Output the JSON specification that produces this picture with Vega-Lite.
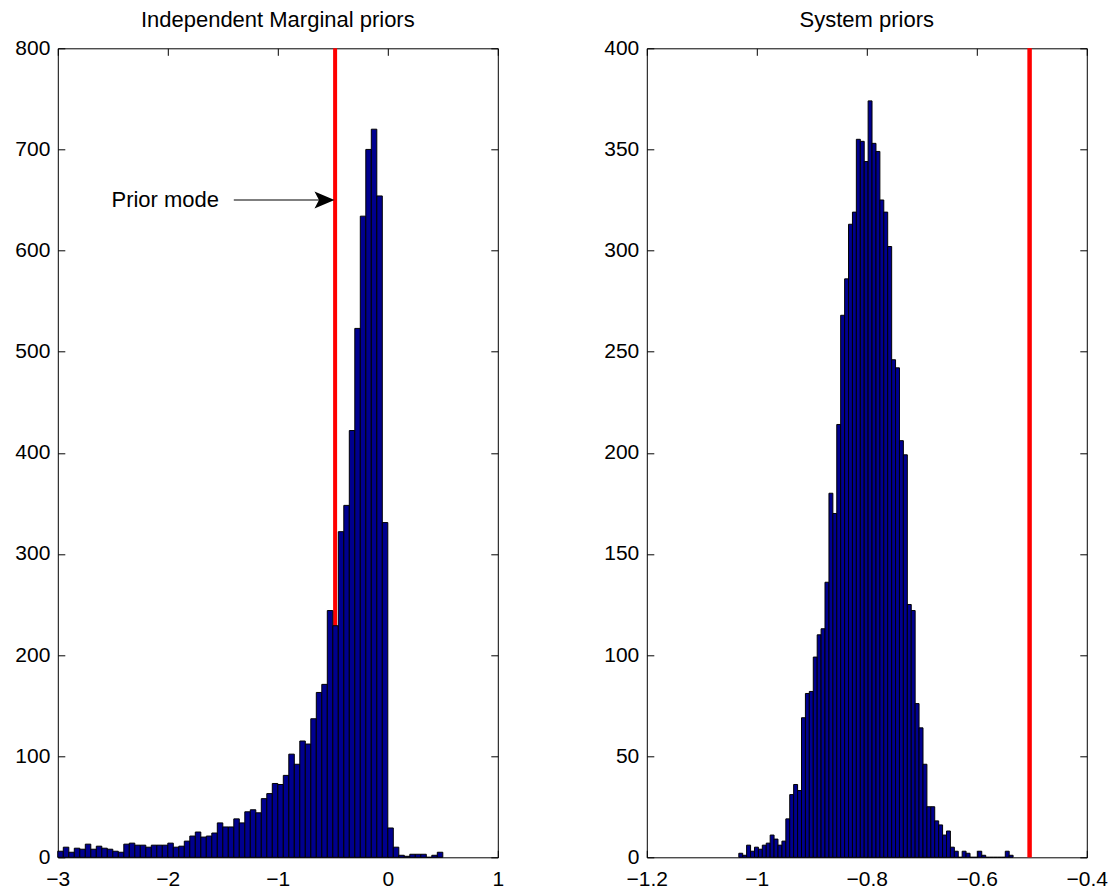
{
  "$schema": "https://vega.github.io/schema/vega-lite/v6.json",
  "padding": {"left": 13.8, "top": 8.3, "right": 0, "bottom": 0},
  "spacing": 98,
  "datasets": {
    "left": [
      {"lo": -3, "hi": -2.95, "n": 6}, {"lo": -2.95, "hi": -2.9, "n": 10}, {"lo": -2.9, "hi": -2.85, "n": 5}, {"lo": -2.85, "hi": -2.8, "n": 9},
      {"lo": -2.8, "hi": -2.75, "n": 8}, {"lo": -2.75, "hi": -2.7, "n": 13}, {"lo": -2.7, "hi": -2.65, "n": 8}, {"lo": -2.65, "hi": -2.6, "n": 11},
      {"lo": -2.6, "hi": -2.55, "n": 9}, {"lo": -2.55, "hi": -2.5, "n": 8}, {"lo": -2.5, "hi": -2.45, "n": 6}, {"lo": -2.45, "hi": -2.4, "n": 5},
      {"lo": -2.4, "hi": -2.35, "n": 13}, {"lo": -2.35, "hi": -2.3, "n": 14}, {"lo": -2.3, "hi": -2.25, "n": 12}, {"lo": -2.25, "hi": -2.2, "n": 12},
      {"lo": -2.2, "hi": -2.15, "n": 10}, {"lo": -2.15, "hi": -2.1, "n": 12}, {"lo": -2.1, "hi": -2.05, "n": 12}, {"lo": -2.05, "hi": -2, "n": 12},
      {"lo": -2, "hi": -1.95, "n": 14}, {"lo": -1.95, "hi": -1.9, "n": 10}, {"lo": -1.9, "hi": -1.85, "n": 11}, {"lo": -1.85, "hi": -1.8, "n": 16},
      {"lo": -1.8, "hi": -1.75, "n": 21}, {"lo": -1.75, "hi": -1.7, "n": 25}, {"lo": -1.7, "hi": -1.65, "n": 20}, {"lo": -1.65, "hi": -1.6, "n": 21},
      {"lo": -1.6, "hi": -1.55, "n": 24}, {"lo": -1.55, "hi": -1.5, "n": 34}, {"lo": -1.5, "hi": -1.45, "n": 30}, {"lo": -1.45, "hi": -1.4, "n": 30},
      {"lo": -1.4, "hi": -1.35, "n": 38}, {"lo": -1.35, "hi": -1.3, "n": 34}, {"lo": -1.3, "hi": -1.25, "n": 45}, {"lo": -1.25, "hi": -1.2, "n": 47},
      {"lo": -1.2, "hi": -1.15, "n": 44}, {"lo": -1.15, "hi": -1.1, "n": 58}, {"lo": -1.1, "hi": -1.05, "n": 63}, {"lo": -1.05, "hi": -1, "n": 73},
      {"lo": -1, "hi": -0.95, "n": 72}, {"lo": -0.95, "hi": -0.9, "n": 81}, {"lo": -0.9, "hi": -0.85, "n": 102}, {"lo": -0.85, "hi": -0.8, "n": 92},
      {"lo": -0.8, "hi": -0.75, "n": 115}, {"lo": -0.75, "hi": -0.7, "n": 112}, {"lo": -0.7, "hi": -0.65, "n": 137}, {"lo": -0.65, "hi": -0.6, "n": 163},
      {"lo": -0.6, "hi": -0.55, "n": 171}, {"lo": -0.55, "hi": -0.5, "n": 244}, {"lo": -0.5, "hi": -0.45, "n": 229}, {"lo": -0.45, "hi": -0.4, "n": 322},
      {"lo": -0.4, "hi": -0.35, "n": 348}, {"lo": -0.35, "hi": -0.3, "n": 422}, {"lo": -0.3, "hi": -0.25, "n": 523}, {"lo": -0.25, "hi": -0.2, "n": 634},
      {"lo": -0.2, "hi": -0.15, "n": 700}, {"lo": -0.15, "hi": -0.1, "n": 720}, {"lo": -0.1, "hi": -0.05, "n": 654}, {"lo": -0.05, "hi": 0, "n": 331},
      {"lo": 0, "hi": 0.05, "n": 29}, {"lo": 0.05, "hi": 0.1, "n": 10}, {"lo": 0.1, "hi": 0.15, "n": 2}, {"lo": 0.15, "hi": 0.2, "n": 1},
      {"lo": 0.2, "hi": 0.25, "n": 3}, {"lo": 0.25, "hi": 0.3, "n": 3}, {"lo": 0.3, "hi": 0.35, "n": 3}, {"lo": 0.35, "hi": 0.4, "n": 0},
      {"lo": 0.4, "hi": 0.45, "n": 2}, {"lo": 0.45, "hi": 0.5, "n": 5}
    ],
    "right": [
      {"lo": -1.0327, "hi": -1.0256, "n": 2}, {"lo": -1.0256, "hi": -1.0185, "n": 1}, {"lo": -1.0185, "hi": -1.0113, "n": 6}, {"lo": -1.0113, "hi": -1.0042, "n": 3},
      {"lo": -1.0042, "hi": -0.9971, "n": 5}, {"lo": -0.9971, "hi": -0.99, "n": 4}, {"lo": -0.99, "hi": -0.9828, "n": 6}, {"lo": -0.9828, "hi": -0.9757, "n": 7},
      {"lo": -0.9757, "hi": -0.9686, "n": 11}, {"lo": -0.9686, "hi": -0.9615, "n": 9}, {"lo": -0.9615, "hi": -0.9543, "n": 6}, {"lo": -0.9543, "hi": -0.9472, "n": 8},
      {"lo": -0.9472, "hi": -0.9401, "n": 19}, {"lo": -0.9401, "hi": -0.933, "n": 31}, {"lo": -0.933, "hi": -0.9258, "n": 36}, {"lo": -0.9258, "hi": -0.9187, "n": 33},
      {"lo": -0.9187, "hi": -0.9116, "n": 69}, {"lo": -0.9116, "hi": -0.9045, "n": 81}, {"lo": -0.9045, "hi": -0.8973, "n": 82}, {"lo": -0.8973, "hi": -0.8902, "n": 99},
      {"lo": -0.8902, "hi": -0.8831, "n": 110}, {"lo": -0.8831, "hi": -0.876, "n": 113}, {"lo": -0.876, "hi": -0.8688, "n": 136}, {"lo": -0.8688, "hi": -0.8617, "n": 180},
      {"lo": -0.8617, "hi": -0.8546, "n": 170}, {"lo": -0.8546, "hi": -0.8475, "n": 214}, {"lo": -0.8475, "hi": -0.8403, "n": 268}, {"lo": -0.8403, "hi": -0.8332, "n": 286},
      {"lo": -0.8332, "hi": -0.8261, "n": 313}, {"lo": -0.8261, "hi": -0.819, "n": 319}, {"lo": -0.819, "hi": -0.8118, "n": 355}, {"lo": -0.8118, "hi": -0.8047, "n": 354},
      {"lo": -0.8047, "hi": -0.7976, "n": 344}, {"lo": -0.7976, "hi": -0.7905, "n": 374}, {"lo": -0.7905, "hi": -0.7833, "n": 353}, {"lo": -0.7833, "hi": -0.7762, "n": 349},
      {"lo": -0.7762, "hi": -0.7691, "n": 325}, {"lo": -0.7691, "hi": -0.762, "n": 319}, {"lo": -0.762, "hi": -0.7548, "n": 302}, {"lo": -0.7548, "hi": -0.7477, "n": 246},
      {"lo": -0.7477, "hi": -0.7406, "n": 242}, {"lo": -0.7406, "hi": -0.7335, "n": 206}, {"lo": -0.7335, "hi": -0.7263, "n": 199}, {"lo": -0.7263, "hi": -0.7192, "n": 125},
      {"lo": -0.7192, "hi": -0.7121, "n": 122}, {"lo": -0.7121, "hi": -0.705, "n": 76}, {"lo": -0.705, "hi": -0.6978, "n": 64}, {"lo": -0.6978, "hi": -0.6907, "n": 46},
      {"lo": -0.6907, "hi": -0.6836, "n": 25}, {"lo": -0.6836, "hi": -0.6765, "n": 25}, {"lo": -0.6765, "hi": -0.6693, "n": 18}, {"lo": -0.6693, "hi": -0.6622, "n": 16},
      {"lo": -0.6622, "hi": -0.6551, "n": 11}, {"lo": -0.6551, "hi": -0.648, "n": 13}, {"lo": -0.648, "hi": -0.6408, "n": 5}, {"lo": -0.6408, "hi": -0.6337, "n": 3},
      {"lo": -0.6337, "hi": -0.6266, "n": 0}, {"lo": -0.6266, "hi": -0.6195, "n": 3}, {"lo": -0.6195, "hi": -0.6123, "n": 2}, {"lo": -0.6123, "hi": -0.6052, "n": 0},
      {"lo": -0.6052, "hi": -0.5981, "n": 0}, {"lo": -0.5981, "hi": -0.591, "n": 3}, {"lo": -0.591, "hi": -0.5838, "n": 1}, {"lo": -0.5838, "hi": -0.5767, "n": 0},
      {"lo": -0.5767, "hi": -0.5696, "n": 0}, {"lo": -0.5696, "hi": -0.5625, "n": 0}, {"lo": -0.5625, "hi": -0.5553, "n": 0}, {"lo": -0.5553, "hi": -0.5482, "n": 0},
      {"lo": -0.5482, "hi": -0.5411, "n": 3}, {"lo": -0.5411, "hi": -0.534, "n": 1}
    ]
  },
  "hconcat": [
    {
      "width": 440,
      "height": 809,
      "title": "Independent Marginal priors",
      "layer": [
        {
          "data": {"values": [{}]},
          "mark": {"type": "rule", "color": "#ff0000", "strokeWidth": 4},
          "encoding": {
            "x": {"datum": -0.479, "type": "quantitative", "scale": {"domain": [-3, 1], "nice": false, "zero": false},
                  "axis": {"orient": "top", "labels": false, "domain": false, "offset": -7, "values": [-3, -2, -1, 0, 1], "title": null}},
            "y": {"datum": 0, "type": "quantitative", "scale": {"domain": [0, 800], "nice": false},
                  "axis": {"orient": "right", "labels": false, "domain": false, "offset": -7, "values": [0, 100, 200, 300, 400, 500, 600, 700, 800], "title": null}},
            "y2": {"datum": 800}
          }
        },
        {
          "data": {"name": "left"},
          "mark": {"type": "rect", "color": "#00008f", "stroke": "#000000", "strokeWidth": 1},
          "encoding": {
            "x": {"field": "lo", "type": "quantitative", "scale": {"domain": [-3, 1], "nice": false, "zero": false},
                  "axis": {"orient": "bottom", "ticks": false, "domain": false, "labelPadding": 11, "values": [-3, -2, -1, 0, 1], "format": "~g", "title": null}},
            "x2": {"field": "hi"},
            "y": {"field": "n", "type": "quantitative", "scale": {"domain": [0, 800], "nice": false},
                  "axis": {"orient": "left", "ticks": false, "domain": false, "labelPadding": 8, "values": [0, 100, 200, 300, 400, 500, 600, 700, 800], "title": null}},
            "y2": {"datum": 0}
          }
        },
        {
          "data": {"values": [{}]},
          "mark": {"type": "text", "text": "Prior mode", "align": "left", "baseline": "middle", "font": "Liberation Sans", "fontSize": 22, "color": "#000000"},
          "encoding": {
            "x": {"datum": -2.512, "type": "quantitative", "scale": {"domain": [-3, 1], "nice": false, "zero": false},
                  "axis": {"orient": "bottom", "labels": false, "domain": false, "offset": -7, "values": [-3, -2, -1, 0, 1], "title": null}},
            "y": {"datum": 650, "type": "quantitative", "scale": {"domain": [0, 800], "nice": false},
                  "axis": {"orient": "left", "labels": false, "domain": false, "offset": -7, "values": [0, 100, 200, 300, 400, 500, 600, 700, 800], "title": null}}
          }
        },
        {
          "data": {"values": [{}]},
          "mark": {"type": "rule", "color": "#000000", "strokeWidth": 1.2},
          "encoding": {
            "x": {"datum": -1.4, "type": "quantitative", "scale": {"domain": [-3, 1], "nice": false, "zero": false}, "axis": null},
            "x2": {"datum": -0.58},
            "y": {"datum": 650, "type": "quantitative", "scale": {"domain": [0, 800], "nice": false}, "axis": null}
          }
        },
        {
          "data": {"values": [{}]},
          "mark": {"type": "point", "shape": "M1,0L-1,-0.85L-0.55,0L-1,0.85Z", "filled": true, "size": 400, "color": "#000000", "opacity": 1, "strokeWidth": 0},
          "encoding": {
            "x": {"datum": -0.5755, "type": "quantitative", "scale": {"domain": [-3, 1], "nice": false, "zero": false}, "axis": null},
            "y": {"datum": 650, "type": "quantitative", "scale": {"domain": [0, 800], "nice": false}, "axis": null}
          }
        }
      ],
      "resolve": {"axis": {"x": "independent", "y": "independent"}}
    },
    {
      "width": 440,
      "height": 809,
      "title": "System priors",
      "layer": [
        {
          "data": {"values": [{}]},
          "mark": {"type": "rule", "color": "#ff0000", "strokeWidth": 4},
          "encoding": {
            "x": {"datum": -0.504, "type": "quantitative", "scale": {"domain": [-1.2, -0.4], "nice": false, "zero": false},
                  "axis": {"orient": "top", "labels": false, "domain": false, "offset": -7, "values": [-1.2, -1, -0.8, -0.6, -0.4], "title": null}},
            "y": {"datum": 0, "type": "quantitative", "scale": {"domain": [0, 400], "nice": false},
                  "axis": {"orient": "right", "labels": false, "domain": false, "offset": -7, "values": [0, 50, 100, 150, 200, 250, 300, 350, 400], "title": null}},
            "y2": {"datum": 400}
          }
        },
        {
          "data": {"values": [{}]},
          "mark": {"type": "rule", "color": "#ff0000", "strokeWidth": 4},
          "encoding": {
            "x": {"datum": -0.504, "type": "quantitative", "scale": {"domain": [-1.2, -0.4], "nice": false, "zero": false},
                  "axis": {"orient": "bottom", "labels": false, "domain": false, "offset": -7, "values": [-1.2, -1, -0.8, -0.6, -0.4], "title": null}},
            "y": {"datum": 0, "type": "quantitative", "scale": {"domain": [0, 400], "nice": false},
                  "axis": {"orient": "left", "labels": false, "domain": false, "offset": -7, "values": [0, 50, 100, 150, 200, 250, 300, 350, 400], "title": null}},
            "y2": {"datum": 400}
          }
        },
        {
          "data": {"name": "right"},
          "mark": {"type": "rect", "color": "#00008f", "stroke": "#000000", "strokeWidth": 1},
          "encoding": {
            "x": {"field": "lo", "type": "quantitative", "scale": {"domain": [-1.2, -0.4], "nice": false, "zero": false},
                  "axis": {"orient": "bottom", "ticks": false, "domain": false, "labelPadding": 11, "values": [-1.2, -1, -0.8, -0.6, -0.4], "format": "~g", "title": null}},
            "x2": {"field": "hi"},
            "y": {"field": "n", "type": "quantitative", "scale": {"domain": [0, 400], "nice": false},
                  "axis": {"orient": "left", "ticks": false, "domain": false, "labelPadding": 8, "values": [0, 50, 100, 150, 200, 250, 300, 350, 400], "title": null}},
            "y2": {"datum": 0}
          }
        }
      ],
      "resolve": {"axis": {"x": "independent", "y": "independent"}}
    }
  ],
  "config": {
    "view": {"stroke": "#000000", "strokeWidth": 1},
    "font": "Liberation Sans",
    "axis": {
      "domainColor": "#000000", "tickColor": "#000000", "labelColor": "#000000",
      "labelFont": "Liberation Sans", "labelFontSize": 21, "grid": false,
      "tickSize": 7, "labelFlush": false, "labelOverlap": false,
      "domainWidth": 1, "tickWidth": 1
    },
    "title": {"font": "Liberation Sans", "fontSize": 22, "fontWeight": "normal", "color": "#000000", "offset": 5, "anchor": "middle"}
  }
}
